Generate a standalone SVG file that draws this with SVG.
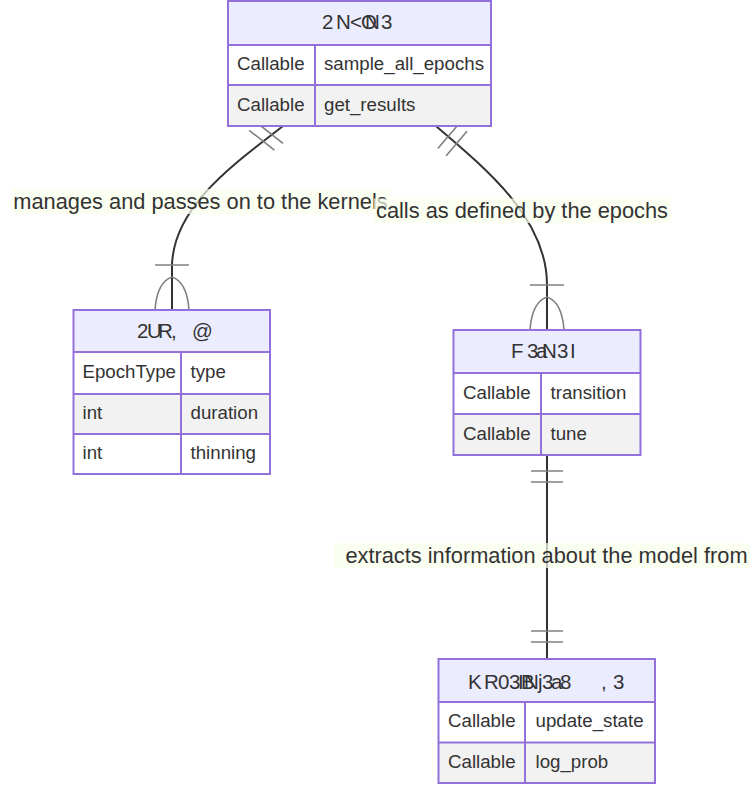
<svg xmlns="http://www.w3.org/2000/svg" width="750" height="786" viewBox="0 0 750 786">
<style>
.box{stroke:#9370DB;stroke-width:2;}
.title{fill:#ECECFF;}
.odd{fill:#ffffff;}
.even{fill:#f2f2f2;}
.div{stroke:#9370DB;stroke-width:2;fill:none;}
.t{font-family:"Liberation Sans",Arial,sans-serif;font-size:18.7px;fill:#333;}
.h{font-family:"Liberation Sans",Arial,sans-serif;font-size:20.5px;fill:#333;}
.line{fill:none;stroke:#333;stroke-width:2;}
.mk{fill:none;stroke:#808080;stroke-width:1.6;}
.lb{fill:#f9ffec;fill-opacity:0.7;}
.lt{font-family:"Liberation Sans",Arial,sans-serif;font-size:21.8px;fill:#333;text-anchor:middle;}
</style>
<rect width="750" height="786" fill="#ffffff"/>

<g id="connectors">
  <path class="line" d="M283,126 C240,160 172,205 172,267 L172,310"/>
  <path class="mk" d="M257.8,123.5 L283,143.3 M249.2,130.3 L274.4,150.1"/>
  <path class="mk" d="M155,265 L189,265 M155,310 Q157,282 172,277 M189,310 Q187,282 172,277"/>

  <path class="line" d="M436,126 C490,172 547,220 547,285 L547,330"/>
  <path class="mk" d="M458.6,124.2 L437.8,148.6 M467,131.3 L446.2,155.7"/>
  <path class="mk" d="M530,285 L564,285 M530,330 Q532,302 547,297 M564,330 Q562,302 547,297"/>

  <path class="line" d="M547,455 L547,659"/>
  <path class="mk" d="M531,471 L563,471 M531,482 L563,482 M531,631 L563,631 M531,642 L563,642"/>
</g>

<g id="labels">
  <rect class="lb" x="12" y="189" width="378" height="25"/>
  <text class="lt" x="200.5" y="208.5">manages and passes on to the kernels</text>
  <rect class="lb" x="374" y="198.5" width="297" height="24.5"/>
  <text class="lt" x="522" y="218">calls as defined by the epochs</text>
  <rect class="lb" x="334" y="543" width="420" height="25"/>
  <text class="lt" x="546.5" y="562.5">extracts information about the model from</text>
</g>

<g id="node-sampler">
  <rect class="title" x="228" y="1" width="263" height="44"/>
  <rect class="odd" x="228" y="45" width="263" height="40"/>
  <rect class="even" x="228" y="85" width="263" height="41"/>
  <rect class="box" x="228" y="1" width="263" height="125" fill="none"/>
  <path class="div" d="M228,45 H491 M228,85 H491 M315,45 V126"/>
  <text class="h" x="322 336 350 361 365 381" y="29">2N&lt;ON3</text>
  <text class="t" x="237" y="70">Callable</text>
  <text class="t" x="324" y="70">sample_all_epochs</text>
  <text class="t" x="237" y="110.5">Callable</text>
  <text class="t" x="324" y="110.5">get_results</text>
</g>

<g id="node-epoch">
  <rect class="title" x="73.5" y="310" width="196.5" height="42"/>
  <rect class="odd" x="73.5" y="352" width="196.5" height="42"/>
  <rect class="even" x="73.5" y="394" width="196.5" height="40"/>
  <rect class="odd" x="73.5" y="434" width="196.5" height="40"/>
  <rect class="box" x="73.5" y="310" width="196.5" height="164" fill="none"/>
  <path class="div" d="M73.5,352 H270 M73.5,394 H270 M73.5,434 H270 M181,352 V474"/>
  <text class="h" x="137 147 158 171 176 192" y="337.5">2UR, @</text>
  <text class="t" x="82.5" y="378">EpochType</text>
  <text class="t" x="190.5" y="378">type</text>
  <text class="t" x="82.5" y="419">int</text>
  <text class="t" x="190.5" y="419">duration</text>
  <text class="t" x="82.5" y="459">int</text>
  <text class="t" x="190.5" y="459">thinning</text>
</g>

<g id="node-kernel">
  <rect class="title" x="453.5" y="330" width="187" height="43"/>
  <rect class="odd" x="453.5" y="373" width="187" height="41"/>
  <rect class="even" x="453.5" y="414" width="187" height="41"/>
  <rect class="box" x="453.5" y="330" width="187" height="125" fill="none"/>
  <path class="div" d="M453.5,373 H640.5 M453.5,414 H640.5 M541,373 V455"/>
  <text class="h" x="511 527 536 542 557 570" y="357.5">F3aN3I</text>
  <text class="t" x="463" y="398.5">Callable</text>
  <text class="t" x="550.5" y="398.5">transition</text>
  <text class="t" x="463" y="439.5">Callable</text>
  <text class="t" x="550.5" y="439.5">tune</text>
</g>

<g id="node-model">
  <rect class="title" x="438.5" y="659" width="216.5" height="43"/>
  <rect class="odd" x="438.5" y="702" width="216.5" height="40.5"/>
  <rect class="even" x="438.5" y="742.5" width="216.5" height="40.5"/>
  <rect class="box" x="438.5" y="659" width="216.5" height="124" fill="none"/>
  <path class="div" d="M438.5,702 H655 M438.5,742.5 H655 M525,702 V783"/>
  <text class="h" x="468 484 498 509 518 521 524 538 542 551 560 580 601 608 613" y="688.5">KR03IBNj3a8 , 3</text>
  <text class="t" x="448" y="727">Callable</text>
  <text class="t" x="535.5" y="727">update_state</text>
  <text class="t" x="448" y="768">Callable</text>
  <text class="t" x="535.5" y="768">log_prob</text>
</g>
</svg>
